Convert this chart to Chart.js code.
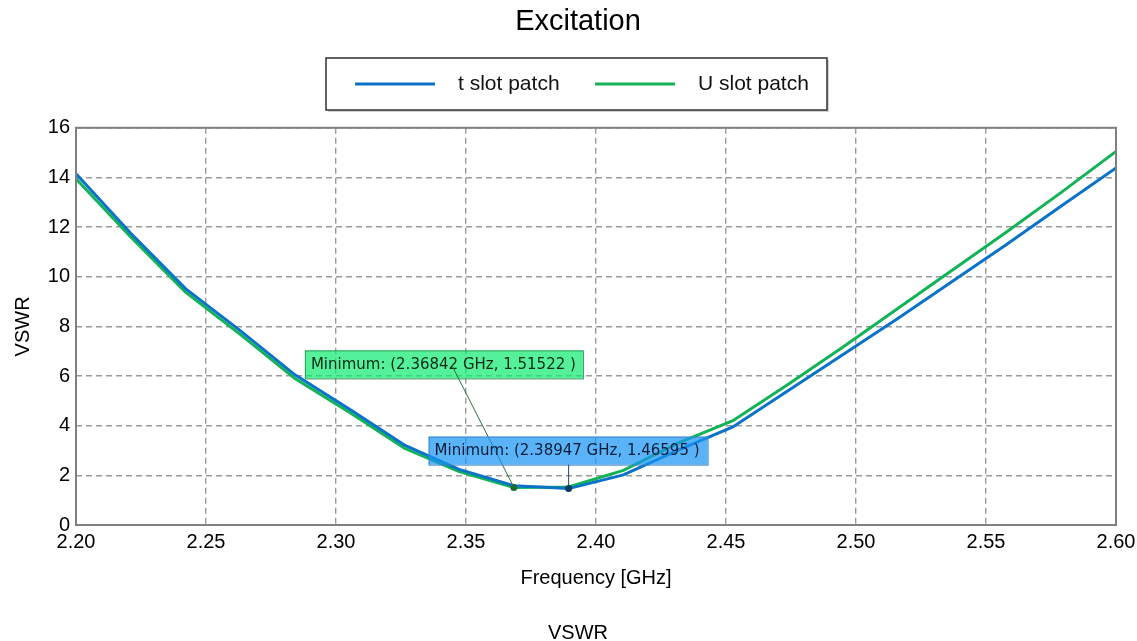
<!DOCTYPE html>
<html>
<head>
<meta charset="utf-8">
<script src="https://cdn.jsdelivr.net/npm/chart.js@4.4.1/dist/chart.umd.min.js"></script>
<style>
  html, body { margin: 0; padding: 0; background: #fff; }
  #wrap { width: 1137px; height: 641px; position: relative; }
</style>
</head>
<body>
<div id="wrap"><canvas id="chart"></canvas></div>
<script>
// ---------------------------------------------------------------------------
// Data
// ---------------------------------------------------------------------------
const freqGHz = [
  2.2, 2.22105, 2.24211, 2.26316, 2.28421, 2.30526, 2.32632, 2.34737, 2.36842, 2.38947,
  2.41053, 2.43158, 2.45263, 2.47368, 2.49474, 2.51579, 2.53684, 2.55789, 2.57895, 2.6,
];
const tSlotVSWR = [
  14.15, 11.75, 9.52, 7.83, 6.05, 4.66, 3.22, 2.24, 1.58, 1.46595,
  2.02, 3.02, 3.95, 5.4, 6.85, 8.3, 9.8, 11.3, 12.85, 14.38,
];
const uSlotVSWR = [
  13.95, 11.6, 9.38, 7.68, 5.9, 4.53, 3.09, 2.15, 1.51522, 1.53,
  2.2, 3.3, 4.2, 5.65, 7.15, 8.7, 10.25, 11.8, 13.4, 15.05,
];
const seriesNames = ['t slot patch', 'U slot patch'];
const xTicks = [2.20, 2.25, 2.30, 2.35, 2.40, 2.45, 2.50, 2.55, 2.60];
const yTicks = [0, 2, 4, 6, 8, 10, 12, 14, 16];

const BLUE  = '#0a72c8';
const GREEN = '#12b356';
const FONT  = "'Liberation Sans', Arial, sans-serif";

const toPoints = ys => freqGHz.map((f, i) => ({ x: f, y: ys[i] }));

// ---------------------------------------------------------------------------
// Plot frame + legend box + "Minimum" markers
// ---------------------------------------------------------------------------
const framePlugin = {
  id: 'frame',
  afterDatasetsDraw(chart) {
    const { ctx, chartArea: a } = chart;
    ctx.save();
    ctx.strokeStyle = '#808080';
    ctx.lineWidth = 2;
    ctx.strokeRect(a.left, a.top, a.right - a.left, a.bottom - a.top);
    ctx.restore();
  },
};

const legendBoxPlugin = {
  id: 'legendBox',
  afterDraw(chart) {
    const { ctx } = chart;
    const box = { x: 326, y: 58, w: 501, h: 52 };
    const items = [
      { lineX: 355, textX: 458 },
      { lineX: 595, textX: 698 },
    ];
    ctx.save();
    ctx.fillStyle = 'rgba(0,0,0,0.18)';
    ctx.fillRect(box.x + 2, box.y + 2, box.w, box.h);
    ctx.fillStyle = '#fff';
    ctx.fillRect(box.x, box.y, box.w, box.h);
    ctx.strokeStyle = '#303030';
    ctx.lineWidth = 1.5;
    ctx.strokeRect(box.x, box.y, box.w, box.h);
    const cy = box.y + box.h / 2;
    chart.data.datasets.forEach((ds, i) => {
      ctx.strokeStyle = ds.borderColor;
      ctx.lineWidth = 3;
      ctx.beginPath();
      ctx.moveTo(items[i].lineX, cy);
      ctx.lineTo(items[i].lineX + 80, cy);
      ctx.stroke();
      ctx.fillStyle = '#111';
      ctx.font = `21px ${FONT}`;
      ctx.textBaseline = 'middle';
      ctx.fillText(ds.label, items[i].textX, cy);
    });
    ctx.restore();
  },
};

// marker boxes: offsets are relative to the minimum point of each series
const markers = [
  { ds: 1, dx: -209, dy: -137, w: 278, h: 28, anchorX: 147, anchorY: 15,
    fill: 'rgba(20,235,115,0.72)', edge: '#2c9d5c', text: '#0c2a18', dot: '#1d6b33', lead: '#2a7040' },
  { ds: 0, dx: -140, dy: -52, w: 279, h: 28, anchorX: 140, anchorY: 28,
    fill: 'rgba(25,150,243,0.72)', edge: '#3a86cc', text: '#0c1c3a', dot: '#0e3a66', lead: '#1f4a78' },
];

const minimumPlugin = {
  id: 'minimum',
  afterDraw(chart) {
    const { ctx, scales: { x, y } } = chart;
    ctx.save();
    markers.forEach(m => {
      const data = chart.data.datasets[m.ds].data;
      let best = data[0];
      data.forEach(p => { if (p.y < best.y) best = p; });
      const px = x.getPixelForValue(best.x);
      const py = y.getPixelForValue(best.y);
      const bx = px + m.dx, by = py + m.dy;

      ctx.fillStyle = m.fill;
      ctx.fillRect(bx, by, m.w, m.h);
      ctx.strokeStyle = m.edge;
      ctx.lineWidth = 1;
      ctx.strokeRect(bx + 0.5, by + 0.5, m.w, m.h);

      ctx.fillStyle = m.text;
      ctx.font = "15px 'DejaVu Sans', Verdana, sans-serif";
      ctx.textBaseline = 'middle';
      ctx.fillText(`Minimum: (${best.x.toFixed(5)} GHz, ${best.y.toFixed(5)} )`, bx + 6, by + m.h / 2 + 1);

      ctx.strokeStyle = m.lead;
      ctx.lineWidth = 1;
      ctx.beginPath();
      ctx.moveTo(bx + m.anchorX, by + m.anchorY);
      ctx.lineTo(px, py);
      ctx.stroke();

      ctx.fillStyle = m.dot;
      ctx.beginPath();
      ctx.arc(px, py, 3.5, 0, Math.PI * 2);
      ctx.fill();
    });
    ctx.restore();
  },
};

// ---------------------------------------------------------------------------
// Chart
// ---------------------------------------------------------------------------
const gridStyle = {
  color: '#9a9a9a',
  lineWidth: 1.4,
  drawTicks: false,
};

new Chart(document.getElementById('chart'), {
  type: 'line',
  data: {
    datasets: [
      {
        label: seriesNames[0],
        data: toPoints(tSlotVSWR),
        borderColor: BLUE,
        borderWidth: 3,
        pointRadius: 0,
        tension: 0,
      },
      {
        label: seriesNames[1],
        data: toPoints(uSlotVSWR),
        borderColor: GREEN,
        borderWidth: 3,
        pointRadius: 0,
        tension: 0,
      },
    ],
  },
  options: {
    responsive: true,
    maintainAspectRatio: false,
    animation: false,
    // left padding keeps the page titles centred on the full width
    layout: { padding: { left: 40, right: 21, top: 0, bottom: 0 } },
    plugins: {
      legend: { display: false },
      tooltip: { enabled: false },
      title: {
        display: true,
        text: 'Excitation',
        color: '#000',
        font: { family: FONT, size: 29, weight: 'normal' },
        padding: { top: 5, bottom: 88 },
      },
      subtitle: {
        display: true,
        position: 'bottom',
        text: 'VSWR',
        color: '#000',
        font: { family: FONT, size: 20, weight: 'normal', lineHeight: 0.8 },
        padding: { top: 18, bottom: 0 },
      },
    },
    scales: {
      x: {
        type: 'linear',
        min: 2.2,
        max: 2.6,
        afterBuildTicks: s => { s.ticks = xTicks.map(v => ({ value: v })); },
        afterFit: s => { s.height = 82; s.paddingRight = 0; s.paddingLeft = 0; },
        ticks: {
          color: '#000',
          padding: 5,
          maxRotation: 0,
          font: { family: FONT, size: 20 },
          callback: v => v.toFixed(2),
        },
        grid: gridStyle,
        border: { display: false, dash: [6, 4] },
        title: {
          display: true,
          text: 'Frequency [GHz]',
          color: '#000',
          font: { family: FONT, size: 20 },
          padding: { top: 0, bottom: 17 },
        },
      },
      y: {
        type: 'linear',
        min: 0,
        max: 16,
        afterBuildTicks: s => { s.ticks = yTicks.map(v => ({ value: v })); },
        afterFit: s => { s.width = 36; },
        ticks: {
          color: '#000',
          padding: 6,
          font: { family: FONT, size: 20 },
        },
        grid: gridStyle,
        border: { display: false, dash: [6, 4] },
        title: {
          display: true,
          text: 'VSWR',
          color: '#000',
          font: { family: FONT, size: 20 },
          padding: { top: -29, bottom: 0 },
        },
      },
    },
  },
  plugins: [framePlugin, legendBoxPlugin, minimumPlugin],
});
</script>
</body>
</html>
